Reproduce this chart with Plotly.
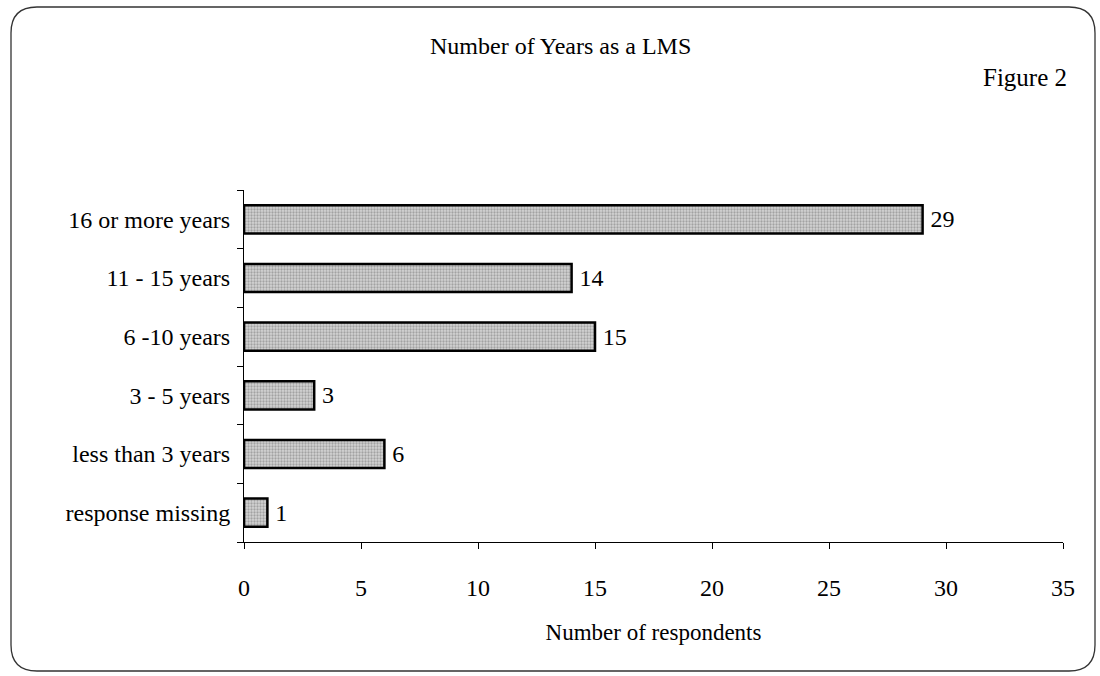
import plotly.graph_objects as go

categories = ["response missing", "less than 3 years", "3 - 5 years",
              "6 -10 years", "11 - 15 years", "16 or more years"]
values = [1, 6, 3, 15, 14, 29]
x_ticks = [0, 5, 10, 15, 20, 25, 30, 35]

W, H = 1100, 676
L, R, T, B = 244, 37, 190, 134
pw, ph = W - L - R, H - T - B

def px(x):
    return (x - L) / pw

def py(y):
    return (H - B - y) / ph

FONT = "Liberation Serif, Times New Roman, serif"
FS = 24

fig = go.Figure(go.Bar(
    y=categories, x=values, orientation="h",
    marker=dict(color="#cccccc",
                line=dict(color="black", width=2.5),
                pattern=dict(shape=".", fgcolor="#707070", bgcolor="#d4d4d4",
                             size=3, solidity=0.45)),
    text=["\u2009" + str(v) for v in values], textposition="outside",
    textfont=dict(family=FONT, size=FS, color="black"),
    cliponaxis=False, width=0.48,
))

# rounded border
x0, x1, y0, y1, r = 11, 1095, 7, 671, 26
path = (f"M {px(x0+r)},{py(y0)} L {px(x1-r)},{py(y0)} "
        f"Q {px(x1)},{py(y0)} {px(x1)},{py(y0+r)} "
        f"L {px(x1)},{py(y1-r)} Q {px(x1)},{py(y1)} {px(x1-r)},{py(y1)} "
        f"L {px(x0+r)},{py(y1)} Q {px(x0)},{py(y1)} {px(x0)},{py(y1-r)} "
        f"L {px(x0)},{py(y0+r)} Q {px(x0)},{py(y0)} {px(x0+r)},{py(y0)} Z")

fig.update_layout(
    width=W, height=H,
    margin=dict(l=L, r=R, t=T, b=B),
    paper_bgcolor="white", plot_bgcolor="white",
    showlegend=False,
    font=dict(family=FONT, size=FS, color="black"),
    shapes=[dict(type="path", xref="paper", yref="paper", path=path,
                 line=dict(color="#333", width=1.3))],
    annotations=[
        dict(text="Number of Years as a LMS", xref="paper", yref="paper",
             x=px(560), y=py(46), yanchor="middle", showarrow=False,
             font=dict(family=FONT, size=FS)),
        dict(text="Figure 2", xref="paper", yref="paper",
             x=px(1069), y=py(77), xanchor="right", yanchor="middle",
             showarrow=False, font=dict(family=FONT, size=FS + 1)),
    ],
    xaxis=dict(range=[0, 35], tickvals=x_ticks, showgrid=False, zeroline=False,
               showline=True, linecolor="black", linewidth=1,
               ticks="outside", ticklen=6, tickcolor="black",
               ticklabelstandoff=18,
               tickfont=dict(family=FONT, size=FS),
               title=dict(text="Number of respondents", standoff=24,
                          font=dict(family=FONT, size=FS - 1))),
    yaxis=dict(showgrid=False, zeroline=False, showline=True,
               linecolor="black", linewidth=1,
               ticks="outside", ticklen=6, tickcolor="black",
               tickson="boundaries", ticklabelstandoff=8,
               tickfont=dict(family=FONT, size=FS),
               categoryorder="array", categoryarray=categories),
)

fig.write_html("out.html", config={"displayModeBar": False},
               post_script="document.body.style.margin='0';")
